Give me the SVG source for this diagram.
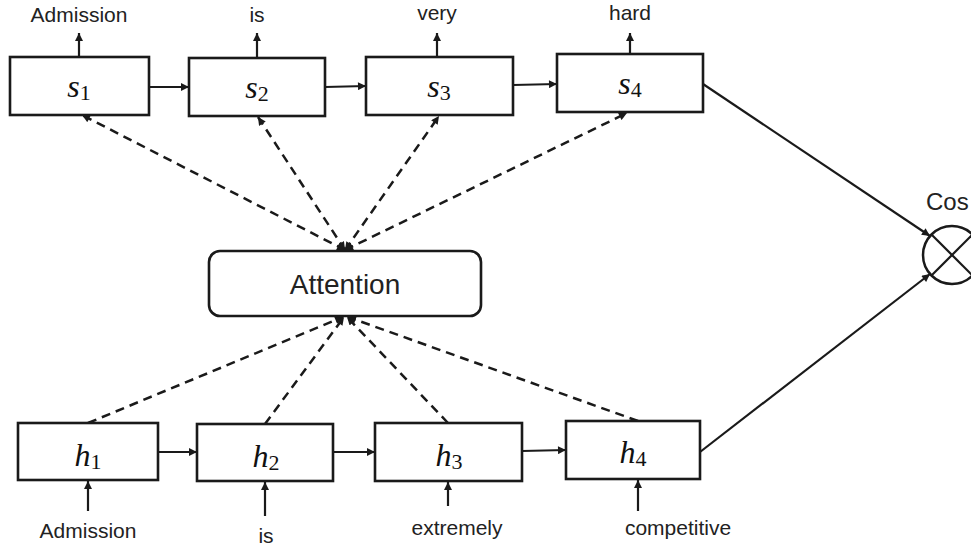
<svg xmlns="http://www.w3.org/2000/svg" width="971" height="547" viewBox="0 0 971 547">
<defs>
<marker id="ah" viewBox="0 0 10 10" refX="10" refY="5" markerWidth="9" markerHeight="8" markerUnits="userSpaceOnUse" orient="auto-start-reverse">
<path d="M0,0 L10,5 L0,10 z" fill="#1a1a1a"/>
</marker>
<style>
.box{fill:#fff;stroke:#1a1a1a;stroke-width:2.6}
.ln{stroke:#1a1a1a;stroke-width:2.2;fill:none}
.ds{stroke:#1a1a1a;stroke-width:2.5;fill:none;stroke-dasharray:9 6}
.w{font-family:"Liberation Sans",Arial,sans-serif;font-size:21px;fill:#222;text-anchor:middle}
.m{font-family:"Liberation Serif","DejaVu Serif",serif;font-style:italic;font-size:32px;fill:#111;text-anchor:middle}
.sub{font-style:normal;font-size:22px}
</style>
</defs>
<rect width="971" height="547" fill="#fff"/>
<g id="connectors">
<line class="ln" x1="149" y1="87" x2="189" y2="87" marker-end="url(#ah)"/>
<line class="ln" x1="325" y1="87" x2="366" y2="86" marker-end="url(#ah)"/>
<line class="ln" x1="513" y1="85" x2="557" y2="84" marker-end="url(#ah)"/>
<line class="ln" x1="79" y1="57" x2="79" y2="33" marker-end="url(#ah)"/>
<line class="ln" x1="257" y1="58" x2="257" y2="33" marker-end="url(#ah)"/>
<line class="ln" x1="437" y1="57" x2="437" y2="33" marker-end="url(#ah)"/>
<line class="ln" x1="630" y1="54" x2="630" y2="33" marker-end="url(#ah)"/>
<line class="ln" x1="158" y1="452" x2="197" y2="452" marker-end="url(#ah)"/>
<line class="ln" x1="333" y1="452" x2="375" y2="452" marker-end="url(#ah)"/>
<line class="ln" x1="522" y1="451" x2="566" y2="450" marker-end="url(#ah)"/>
<line class="ln" x1="88" y1="511" x2="88" y2="481" marker-end="url(#ah)"/>
<line class="ln" x1="265" y1="516" x2="265" y2="482" marker-end="url(#ah)"/>
<line class="ln" x1="448" y1="506" x2="448" y2="482" marker-end="url(#ah)"/>
<line class="ln" x1="638" y1="511" x2="638" y2="480" marker-end="url(#ah)"/>
<line class="ln" x1="703" y1="84" x2="930" y2="236" marker-end="url(#ah)"/>
<line class="ln" x1="700" y1="452" x2="930" y2="274" marker-end="url(#ah)"/>
<line class="ds" x1="345" y1="250" x2="82" y2="115" marker-start="url(#ah)" marker-end="url(#ah)"/>
<line class="ds" x1="345" y1="250" x2="258" y2="117" marker-start="url(#ah)" marker-end="url(#ah)"/>
<line class="ds" x1="345" y1="250" x2="439" y2="116" marker-start="url(#ah)" marker-end="url(#ah)"/>
<line class="ds" x1="345" y1="250" x2="627" y2="113" marker-start="url(#ah)" marker-end="url(#ah)"/>
<line class="ds" x1="88" y1="423" x2="343" y2="317" marker-end="url(#ah)"/>
<line class="ds" x1="265" y1="424" x2="344" y2="317" marker-end="url(#ah)"/>
<line class="ds" x1="448" y1="423" x2="347" y2="317" marker-end="url(#ah)"/>
<line class="ds" x1="638" y1="421" x2="348" y2="317" marker-end="url(#ah)"/>
</g>
<g id="s1"><rect class="box" x="10" y="57" width="139" height="58"/><text class="m" x="79" y="97">s<tspan class="sub" dy="3">1</tspan></text><text class="w" x="79" y="22">Admission</text></g>
<g id="s2"><rect class="box" x="189" y="58" width="136" height="58"/><text class="m" x="257" y="98">s<tspan class="sub" dy="3">2</tspan></text><text class="w" x="257" y="22">is</text></g>
<g id="s3"><rect class="box" x="366" y="57" width="147" height="58"/><text class="m" x="439" y="97">s<tspan class="sub" dy="3">3</tspan></text><text class="w" x="437" y="20">very</text></g>
<g id="s4"><rect class="box" x="557" y="54" width="146" height="58"/><text class="m" x="630" y="94">s<tspan class="sub" dy="3">4</tspan></text><text class="w" x="630" y="20">hard</text></g>
<g id="attention"><rect class="box" x="209" y="251" width="272" height="65" rx="11"/><text x="345" y="294" style="font-family:'Liberation Sans',Arial,sans-serif;font-size:28px;fill:#222;text-anchor:middle">Attention</text></g>
<g id="h1"><rect class="box" x="18" y="423" width="140" height="57"/><text class="m" x="88" y="466">h<tspan class="sub" dy="3">1</tspan></text><text class="w" x="88" y="538">Admission</text></g>
<g id="h2"><rect class="box" x="197" y="424" width="136" height="57"/><text class="m" x="266" y="467">h<tspan class="sub" dy="3">2</tspan></text><text class="w" x="266" y="543">is</text></g>
<g id="h3"><rect class="box" x="375" y="423" width="147" height="58"/><text class="m" x="449" y="466">h<tspan class="sub" dy="3">3</tspan></text><text class="w" x="457" y="535">extremely</text></g>
<g id="h4"><rect class="box" x="566" y="421" width="134" height="58"/><text class="m" x="633" y="463">h<tspan class="sub" dy="3">4</tspan></text><text class="w" x="678" y="535">competitive</text></g>
<g id="cos">
<circle cx="952" cy="255" r="29" fill="#fff" stroke="#1a1a1a" stroke-width="2.5"/>
<line class="ln" x1="931.5" y1="234.5" x2="972.5" y2="275.5" stroke-width="2.5"/>
<line class="ln" x1="931.5" y1="275.5" x2="972.5" y2="234.5" stroke-width="2.5"/>
<text x="926" y="210" style="font-family:'Liberation Sans',Arial,sans-serif;font-size:24px;fill:#222">Cos</text>
</g>
</svg>
